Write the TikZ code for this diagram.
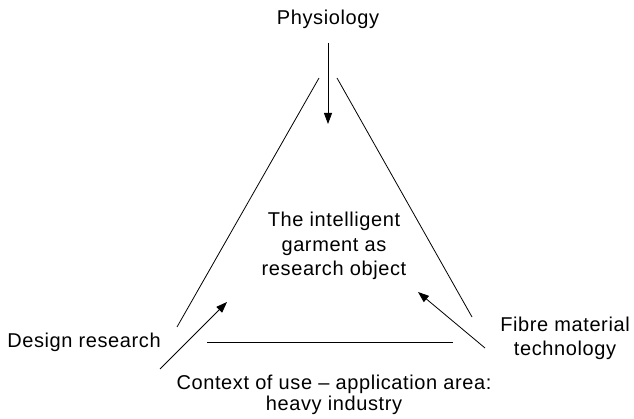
\documentclass[tikz,border=0pt]{standalone}
\usepackage{fontspec}
\setmainfont[LetterSpace=3]{Liberation Sans}
\usetikzlibrary{arrows.meta}
\begin{document}
\begin{tikzpicture}[x=1pt,y=-1pt,
  lbl/.style={font=\fontsize{20}{21}\selectfont, align=center, inner sep=0pt, anchor=base},
  side/.style={draw, line width=0.8pt},
  arr/.style={draw, line width=0.8pt, -{Triangle[length=11pt,width=8pt]}}]
\useasboundingbox (0,0) rectangle (634,419);

% labels (base anchor sits on the last line's baseline)
\node[lbl] (phys) at (328,25) {Physiology};
\node[lbl, font=\fontsize{20}{24.5}\selectfont] (garment) at (334,276) {The intelligent\\garment as\\research object};
\node[lbl] (design) at (84,347) {Design research};
\node[lbl, font=\fontsize{20}{24}\selectfont] (fibre) at (565,355) {Fibre material\\technology};
\node[lbl] (context) at (334,410) {Context of use – application area:\\heavy industry};

% triangle sides
\coordinate (lt) at (319,78);  \coordinate (lb) at (177,327);
\coordinate (rt) at (337,78);  \coordinate (rb) at (472,317);
\coordinate (bl) at (207,342); \coordinate (br) at (453,342);
\path[side] (lt) -- (lb);
\path[side] (rt) -- (rb);
\path[side] (bl) -- (br);

% influence arrows
\coordinate (physTail) at (328,43);    \coordinate (physTip) at (328,124);
\coordinate (designTail) at (160,369); \coordinate (designTip) at (227,302);
\coordinate (fibreTail) at (485,348);  \coordinate (fibreTip) at (418,292);
\path[arr] (physTail) -- (physTip);
\path[arr] (designTail) -- (designTip);
\path[arr] (fibreTail) -- (fibreTip);
\end{tikzpicture}
\end{document}
